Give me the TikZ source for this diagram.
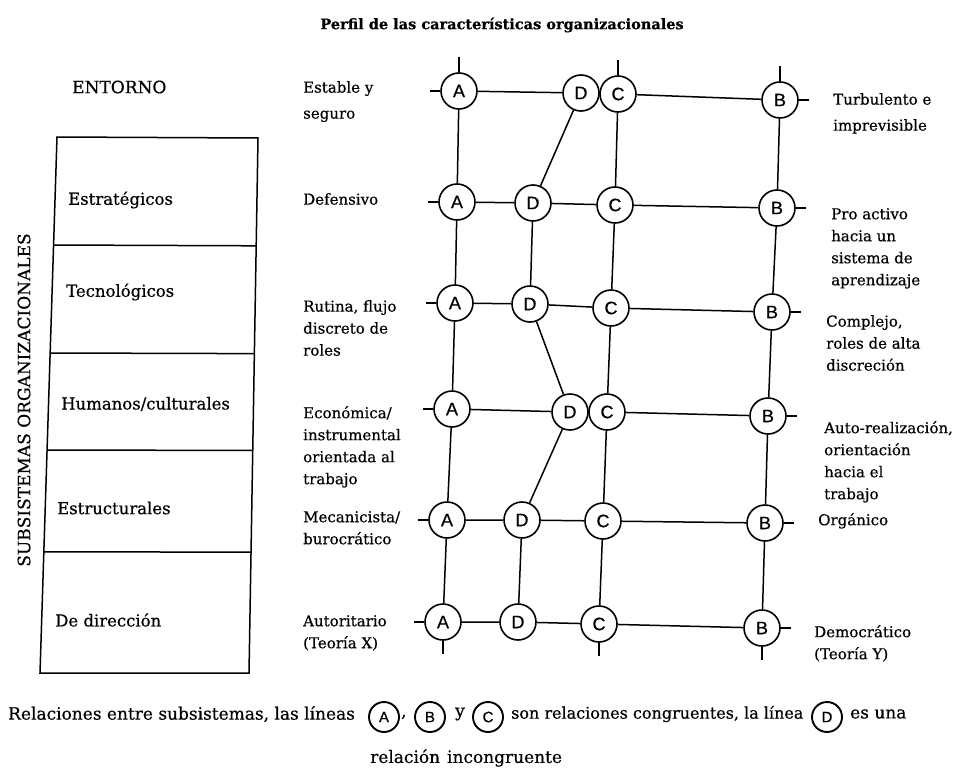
\documentclass[tikz,border=0pt]{standalone}
\usepackage{fontspec}
\setmainfont{DejaVu Serif}[FakeBold=0.5]
\newfontfamily\letterfont{Liberation Sans}[FakeBold=0.6]
\usetikzlibrary{calc}

\begin{document}
\begin{tikzpicture}[x=1pt,y=-1pt,
  txt/.style={anchor=north west, align=left, inner sep=0pt,
              font=\fontsize{15}{22}\selectfont},
  wide/.style={font=\fontsize{15}{26}\selectfont},
  boxlabel/.style={anchor=west, inner sep=0pt, font=\fontsize{16.5}{18}\selectfont},
  circ/.style={circle, draw, line width=1.6pt, minimum size=36pt, inner sep=0pt,
               font=\letterfont\fontsize{18}{18}\selectfont},
  keycirc/.style={circle, draw, line width=1.9pt, minimum size=30pt, inner sep=0pt,
               font=\letterfont\fontsize{15}{15}\selectfont},
  link/.style={line width=1.5pt},
  captxt/.style={anchor=west, inner sep=0pt, font=\fontsize{17}{20}\selectfont},
]
\useasboundingbox[fill=white] (0,0) rectangle (960,768);

% title
\node[font=\bfseries\fontsize{14.5}{16}\selectfont] (title) at (502,25)
  {Perfil de las características organizacionales};

% left block: environment and subsystems
\node[boxlabel, font=\fontsize{17}{18}\selectfont] (entorno) at (72,87) {ENTORNO};
\coordinate (tl) at (57,137);
\coordinate (tr) at (258,138);
\coordinate (br) at (249,673);
\coordinate (bl) at (40,673);
\draw[link] (tl) -- (tr) -- (br) -- (bl) -- cycle;
\foreach \f in {0.2015,0.403,0.584,0.774}
  \draw[link] ($(tl)!\f!(bl)$) -- ($(tr)!\f!(br)$);
\node[boxlabel] (s1) at (68,200) {Estratégicos};
\node[boxlabel] (s2) at (66,292) {Tecnológicos};
\node[boxlabel] (s3) at (61,404) {Humanos/culturales};
\node[boxlabel] (s4) at (57,508) {Estructurales};
\node[boxlabel] (s5) at (55,620) {De dirección};
\node[rotate=90, inner sep=0pt, font=\fontsize{17}{20}\selectfont] (subs) at (24,400)
  {SUBSISTEMAS ORGANIZACIONALES};

% profile circles
\node[circ] (A1) at (459,91) {A};
\node[circ] (D1) at (581,93) {D};
\node[circ] (C1) at (618,94) {C};
\node[circ] (B1) at (780,100) {B};
\node[circ] (A2) at (457,202) {A};
\node[circ] (D2) at (533,203) {D};
\node[circ] (C2) at (615,205) {C};
\node[circ] (B2) at (777,208) {B};
\node[circ] (A3) at (455,303) {A};
\node[circ] (D3) at (530,304) {D};
\node[circ] (C3) at (611,308) {C};
\node[circ] (B3) at (772,312) {B};
\node[circ] (A4) at (452,409) {A};
\node[circ] (D4) at (570,412) {D};
\node[circ] (C4) at (607,412) {C};
\node[circ] (B4) at (768,416) {B};
\node[circ] (A5) at (447,520) {A};
\node[circ] (D5) at (522,520) {D};
\node[circ] (C5) at (603,521) {C};
\node[circ] (B5) at (765,523) {B};
\node[circ] (A6) at (443,622) {A};
\node[circ] (D6) at (518,622) {D};
\node[circ] (C6) at (599,624) {C};
\node[circ] (B6) at (762,628) {B};

% rows
\draw[link] (A1) -- (D1) (C1) -- (B1);
\draw[link] (A2) -- (D2) -- (C2) -- (B2);
\draw[link] (A3) -- (D3) -- (C3) -- (B3);
\draw[link] (A4) -- (D4) (C4) -- (B4);
\draw[link] (A5) -- (D5) -- (C5) -- (B5);
\draw[link] (A6) -- (D6) -- (C6) -- (B6);
% profile lines
\foreach \p in {A,B,C,D}{
  \draw[link] (\p1) -- (\p2) -- (\p3) -- (\p4) -- (\p5) -- (\p6);
}
% short ticks
\foreach \p in {A1,C1,B1} \draw[link] (\p.north) -- ++(0,-15);
\foreach \p in {A6,C6,B6} \draw[link] (\p.south) -- ++(0,13);
\foreach \p in {A1,A2,A3,A4,A5,A6} \draw[link] (\p.west) -- ++(-10,0);
\foreach \p in {B1,B2,B3,B4,B5,B6} \draw[link] (\p.east) -- ++(10,0);

% low end labels
\node[txt, wide] (l1) at (303,81) {Estable y\\seguro};
\node[txt] (l2) at (303,193) {Defensivo};
\node[txt] (l3) at (303,300) {Rutina, flujo\\discreto de\\roles};
\node[txt] (l4) at (303,406) {Económica/\\instrumental\\orientada al\\trabajo};
\node[txt] (l5) at (303,511) {Mecanicista/\\burocrático};
\node[txt] (l6) at (303,615) {Autoritario\\(Teoría X)};

% high end labels
\node[txt, wide] (r1) at (833,93) {Turbulento e\\imprevisible};
\node[txt] (r2) at (831,208) {Pro activo\\hacia un\\sistema de\\aprendizaje};
\node[txt] (r3) at (826,315) {Complejo,\\roles de alta\\discreción};
\node[txt] (r4) at (824,421) {Auto-realización,\\orientación\\hacia el\\trabajo};
\node[txt] (r5) at (818,513) {Orgánico};
\node[txt] (r6) at (814,625) {Democrático\\(Teoría Y)};

% key
\node[captxt] (k1) at (8,714) {Relaciones entre subsistemas, las líneas};
\node[keycirc] (kA) at (384,717) {A};
\node[captxt] (k2) at (401,717) {,};
\node[keycirc] (kB) at (430,717) {B};
\node[captxt] (k3) at (455,714) {y};
\node[keycirc] (kC) at (488,717) {C};
\node[captxt, font=\fontsize{16}{20}\selectfont] (k4) at (511,714)
  {son relaciones congruentes, la línea};
\node[keycirc] (kD) at (827,717) {D};
\node[captxt] (k5) at (850,714) {es una};
\node[captxt] (k6) at (370,758) {relación\hspace{7pt}incongruente};
\end{tikzpicture}
\end{document}
